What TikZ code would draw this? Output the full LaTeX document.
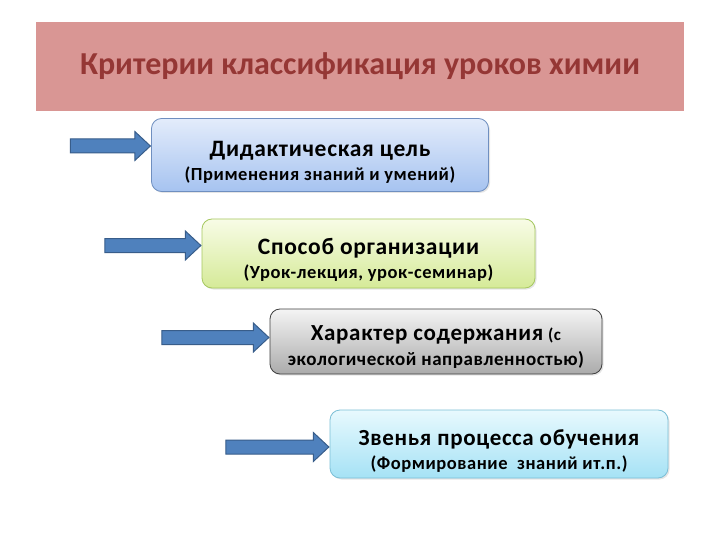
\documentclass[tikz,border=0pt]{standalone}
\usepackage{fontspec}
\setmainfont{Carlito}
\newfontfamily\critfont[LetterSpace=3]{Carlito}
\usetikzlibrary{shapes.arrows}
\usetikzlibrary{shadows}

\definecolor{titlebg}{HTML}{D99694}
\definecolor{titletext}{HTML}{953735}
\definecolor{arrowfill}{HTML}{4F81BD}
\definecolor{arrowline}{HTML}{385D8A}
\definecolor{didtop}{HTML}{E3ECFB}
\definecolor{didbot}{HTML}{A6C3F0}
\definecolor{didline}{HTML}{6F8FC0}
\definecolor{orgtop}{HTML}{F8FCE6}
\definecolor{orgbot}{HTML}{D5EA98}
\definecolor{orgline}{HTML}{A6C860}
\definecolor{contop}{HTML}{F4F4F4}
\definecolor{conbot}{HTML}{ABABAB}
\definecolor{conline}{HTML}{3F3F3F}
\definecolor{lnktop}{HTML}{E8F9FE}
\definecolor{lnkbot}{HTML}{A5E2F5}
\definecolor{lnkline}{HTML}{7BBFD6}

\newcommand\critbig{\fontsize{23.5}{24}\selectfont}

\begin{document}
\begin{tikzpicture}[x=1pt,y=-1pt,
    crit/.style={rounded corners=10pt, line width=0.8pt, align=center,
        font=\critfont\bfseries\fontsize{18.5}{24}\selectfont, inner sep=0pt,
        text height=53.5pt, shading=axis,
        drop shadow={opacity=0.2, shadow xshift=1.5pt, shadow yshift=-1.5pt}},
    barrow/.style={single arrow, draw=arrowline, fill=arrowfill, line width=1pt,
        inner xsep=0pt, inner ysep=6.5pt, single arrow head extend=7.5pt,
        single arrow tip angle=86, anchor=tip}]
    \fill[white] (0,0) rectangle (720,540);
    \useasboundingbox (0,0) rectangle (720,540);

    % title band
    \node[fill=titlebg, minimum width=648pt, minimum height=89pt, inner sep=0pt,
        font=\bfseries\fontsize{32}{38}\selectfont, text=titletext]
        (title) at (360,66.5) {Критерии классификация уроков химии};

    % criteria
    \node[crit, draw=didline, top color=didtop, bottom color=didbot,
        minimum width=337pt, minimum height=73pt] (didact) at (320,155)
        {{\critbig Дидактическая цель}\\(Применения знаний и умений)};
    \node[crit, draw=orgline, top color=orgtop, bottom color=orgbot,
        minimum width=333pt, minimum height=69pt] (organ) at (368.5,253.5)
        {{\critbig Способ организации}\\(Урок-лекция, урок-семинар)};
    \node[crit, draw=conline, top color=contop, bottom color=conbot,
        minimum width=332pt, minimum height=65pt, text height=50pt,
        font=\critfont\bfseries\fontsize{19}{25}\selectfont] (content) at (436,341.5)
        {{\fontsize{23}{24}\selectfont Характер содержания} {\fontsize{17}{24}\selectfont (с}\\
         экологической направленностью)};
    \node[crit, draw=lnkline, top color=lnktop, bottom color=lnkbot,
        minimum width=338pt, minimum height=68pt] (links) at (499,444)
        {{\fontsize{23}{24}\selectfont Звенья процесса обучения}\\(Формирование\ \ знаний ит.п.)};

    % arrows
    \node[barrow, minimum height=80pt, yshift=9pt] (a1) at (didact.west) {};
    \node[barrow, minimum height=96pt, yshift=8pt] (a2) at (organ.west) {};
    \node[barrow, minimum height=107pt, yshift=4pt] (a3) at (content.west) {};
    \node[barrow, minimum height=103pt, yshift=-3pt] (a4) at (links.west) {};
\end{tikzpicture}
\end{document}
